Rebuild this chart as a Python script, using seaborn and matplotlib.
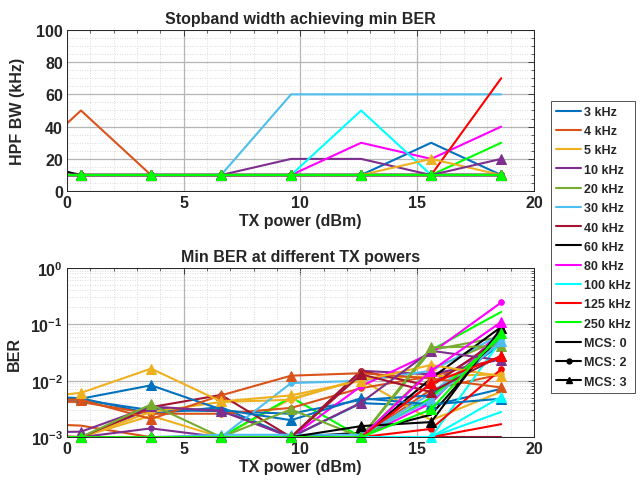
import matplotlib
matplotlib.use("Agg")
import matplotlib.pyplot as plt
import numpy as np
import pandas as pd
import seaborn as sns
from matplotlib.lines import Line2D
from matplotlib.ticker import MultipleLocator, FixedLocator, FixedFormatter, NullFormatter

# ---------------------------------------------------------------- data
tx_power = [-2.4, 0.6, 3.6, 6.6, 9.6, 12.6, 15.6, 18.6]

bandwidths = ["3 kHz", "4 kHz", "5 kHz", "10 kHz", "20 kHz", "30 kHz",
              "40 kHz", "60 kHz", "80 kHz", "100 kHz", "125 kHz", "250 kHz"]

bw_colors = ["#0072BD", "#D95319", "#EDB120", "#7E2F8E", "#77AC30", "#4DBEEE",
             "#A2142F", "#000000", "#FF00FF", "#00FFFF", "#FF0000", "#00FF00"]

mcs_levels = [0, 2, 3]

# HPF stopband width (kHz) giving the lowest BER, one row per bandwidth
hpf_mcs0 = [
    [10, 10, 10, 10, 10, 10, 30, 10],
    [10, 50, 10, 10, 10, 10, 10, 10],
    [10, 10, 10, 10, 10, 10, 10, 10],
    [10, 10, 10, 10, 20, 20, 10, 10],
    [10, 10, 10, 10, 10, 10, 10, 10],
    [10, 10, 10, 10, 60, 60, 60, 60],
    [10, 10, 10, 10, 10, 10, 10, 10],
    [20, 10, 10, 10, 10, 10, 10, 10],
    [10, 10, 10, 10, 10, 30, 20, 40],
    [10, 10, 10, 10, 10, 50, 10, 10],
    [10, 10, 10, 10, 10, 10, 10, 70],
    [10, 10, 10, 10, 10, 10, 10, 30],
]
hpf_mcs2 = [[10] * 8 for _ in range(12)]
hpf_mcs3 = [
    [10, 10, 10, 10, 10, 10, 10, 10],
    [10, 10, 10, 10, 10, 10, 10, 10],
    [10, 10, 10, 10, 10, 10, 20, 10],
    [10, 10, 10, 10, 10, 10, 10, 20],
    [10, 10, 10, 10, 10, 10, 10, 10],
    [10, 10, 10, 10, 10, 10, 10, 10],
    [10, 10, 10, 10, 10, 10, 10, 10],
    [10, 10, 10, 10, 10, 10, 10, 10],
    [10, 10, 10, 10, 10, 10, 10, 10],
    [10, 10, 10, 10, 10, 10, 10, 10],
    [10, 10, 10, 10, 10, 10, 10, 10],
    [10, 10, 10, 10, 10, 10, 10, 10],
]

# minimum BER per bandwidth and TX power
ber_mcs0 = [
    [5.6e-3, 4.9e-3, 2.6e-3, 3.4e-3, 1.0e-3, 4.0e-3, 3.6e-3, 7.2e-3],
    [1.8e-3, 1.6e-3, 1.0e-3, 1.0e-3, 1.0e-3, 1.0e-3, 7.0e-3, 1.3e-2],
    [1.0e-3, 1.0e-3, 2.4e-3, 1.0e-3, 4.8e-3, 1.05e-2, 2.0e-3, 6.4e-3],
    [1.0e-3, 1.0e-3, 3.2e-3, 3.0e-3, 1.0e-3, 1.0e-3, 9.0e-3, 5.0e-2],
    [1.0e-3, 1.0e-3, 1.0e-3, 1.0e-3, 1.0e-3, 1.0e-3, 1.6e-2, 5.5e-2],
    [1.0e-3, 1.0e-3, 1.0e-3, 1.0e-3, 1.0e-3, 1.0e-3, 6.0e-3, 5.5e-2],
    [1.0e-3, 1.0e-3, 1.0e-3, 1.0e-3, 1.0e-3, 1.0e-3, 1.0e-3, 1.0e-3],
    [1.0e-3, 1.0e-3, 1.0e-3, 1.0e-3, 1.0e-3, 1.2e-3, 2.5e-3, 6.5e-2],
    [1.0e-3, 1.0e-3, 1.0e-3, 1.0e-3, 1.0e-3, 1.0e-3, 4.0e-3, 8.0e-2],
    [1.0e-3, 1.0e-3, 1.0e-3, 1.0e-3, 1.0e-3, 1.0e-3, 1.0e-3, 2.8e-3],
    [1.0e-3, 1.0e-3, 1.0e-3, 1.0e-3, 1.0e-3, 1.0e-3, 1.0e-3, 1.7e-3],
    [1.0e-3, 1.0e-3, 1.0e-3, 1.0e-3, 5.1e-3, 1.0e-3, 3.5e-2, 1.66e-1],
]
ber_mcs2 = [
    [4.6e-3, 4.6e-3, 3.0e-3, 2.9e-3, 2.6e-3, 4.6e-3, 5.5e-3, 4.5e-2],
    [4.4e-3, 4.2e-3, 2.6e-3, 2.6e-3, 3.3e-3, 7.4e-3, 1.2e-2, 2.5e-2],
    [1.2e-3, 1.0e-3, 2.8e-3, 4.2e-3, 4.6e-3, 1.1e-2, 1.2e-2, 1.3e-2],
    [1.1e-3, 1.0e-3, 1.43e-3, 1.0e-3, 1.0e-3, 1.5e-2, 1.3e-2, 2.4e-2],
    [1.0e-3, 1.0e-3, 1.0e-3, 1.0e-3, 1.0e-3, 1.0e-3, 3.5e-2, 6.0e-2],
    [1.0e-3, 1.0e-3, 1.0e-3, 1.0e-3, 9.1e-3, 1.0e-2, 1.5e-2, 6.6e-2],
    [1.0e-3, 1.0e-3, 3.4e-3, 5.6e-3, 1.0e-3, 1.5e-2, 8.0e-3, 5.8e-2],
    [1.0e-3, 1.0e-3, 1.0e-3, 1.0e-3, 1.0e-3, 1.0e-3, 1.1e-2, 9.0e-2],
    [1.0e-3, 1.0e-3, 1.0e-3, 1.0e-3, 1.0e-3, 8.0e-3, 3.1e-2, 2.44e-1],
    [1.0e-3, 1.0e-3, 1.0e-3, 1.0e-3, 1.0e-3, 1.0e-3, 1.0e-3, 5.2e-2],
    [1.0e-3, 1.0e-3, 1.0e-3, 1.0e-3, 1.0e-3, 1.0e-3, 1.4e-3, 1.6e-2],
    [1.0e-3, 1.0e-3, 1.0e-3, 1.0e-3, 1.0e-3, 1.0e-3, 5.0e-3, 6.0e-2],
]
ber_mcs3 = [
    [5.4e-3, 4.8e-3, 8.3e-3, 3.1e-3, 2.0e-3, 4.9e-3, 3.8e-3, 4.8e-3],
    [4.9e-3, 4.6e-3, 2.1e-3, 5.5e-3, 1.23e-2, 1.36e-2, 1.1e-2, 7.6e-3],
    [4.6e-3, 6.1e-3, 1.64e-2, 4.3e-3, 5.5e-3, 1.0e-2, 1.9e-2, 1.2e-2],
    [1.2e-3, 1.25e-3, 3.5e-3, 2.9e-3, 1.0e-3, 4.1e-3, 3.4e-2, 2.3e-2],
    [1.0e-3, 1.0e-3, 3.8e-3, 1.0e-3, 3.1e-3, 1.0e-3, 3.9e-2, 4.1e-2],
    [1.0e-3, 1.0e-3, 1.0e-3, 1.1e-3, 1.1e-3, 1.1e-3, 4.5e-3, 5.0e-2],
    [1.0e-3, 1.0e-3, 1.0e-3, 1.0e-3, 1.0e-3, 1.3e-2, 6.3e-3, 2.8e-2],
    [1.0e-3, 1.0e-3, 1.0e-3, 1.0e-3, 1.0e-3, 1.57e-3, 1.85e-3, 8.5e-2],
    [1.0e-3, 1.0e-3, 1.0e-3, 1.0e-3, 1.0e-3, 1.0e-3, 1.5e-2, 1.1e-1],
    [1.0e-3, 1.0e-3, 1.0e-3, 1.0e-3, 1.0e-3, 1.0e-3, 1.0e-3, 5.2e-3],
    [1.0e-3, 1.0e-3, 1.0e-3, 1.0e-3, 1.0e-3, 1.0e-3, 9.0e-3, 2.7e-2],
    [1.0e-3, 1.0e-3, 1.0e-3, 1.0e-3, 1.0e-3, 1.0e-3, 3.1e-3, 7.0e-2],
]

# ---------------------------------------------------------------- style
sns.set_theme(style="white")
plt.rcParams["font.family"] = ["Liberation Sans", "DejaVu Sans"]
plt.rcParams["font.weight"] = "bold"
plt.rcParams["axes.labelweight"] = "bold"
plt.rcParams["axes.titleweight"] = "bold"
plt.rcParams["mathtext.fontset"] = "custom"
plt.rcParams["mathtext.bf"] = "Liberation Sans:bold"
plt.rcParams["mathtext.rm"] = "Liberation Sans:bold"

EDGE = "#262626"
FS = 11.5
markers = {0: None, 2: "o", 3: "^"}
msizes = {0: 0, 2: 4, 3: 6.5}


def draw_series(ax, xs, ys, color, mcs):
    df = pd.DataFrame({"x": xs, "y": ys})
    sns.lineplot(data=df, x="x", y="y", ax=ax, color=color, lw=1.5,
                 sort=False, estimator=None, legend=False)
    if markers[mcs] is not None:
        vis = df[df["x"] >= 0]
        sns.lineplot(data=vis, x="x", y="y", ax=ax, color=color,
                     linestyle="none", marker=markers[mcs], markersize=msizes[mcs],
                     markeredgecolor=color, markerfacecolor=color,
                     sort=False, estimator=None, legend=False, clip_on=False)


def style_axes(ax):
    ax.set_xlim(0, 20)
    ax.xaxis.set_major_locator(MultipleLocator(5))
    ax.xaxis.set_minor_locator(MultipleLocator(1))
    ax.grid(True, which="major", color="#b5b5b5", lw=0.9, ls="-")
    ax.grid(True, which="minor", color="#cfcfcf", lw=0.6, ls=(0, (1, 2)))
    ax.set_axisbelow(True)
    ax.tick_params(which="both", direction="in", top=True, right=True,
                   color=EDGE, labelsize=FS, pad=3)
    ax.tick_params(which="major", length=4, width=0.6)
    ax.tick_params(which="minor", length=2, width=0.5)
    for s in ax.spines.values():
        s.set_color(EDGE)
        s.set_linewidth(0.7)
    for lab in ax.get_xticklabels() + ax.get_yticklabels():
        lab.set_fontweight("bold")
    ax.set_xlabel("TX power (dBm)", fontsize=FS, labelpad=2)


fig = plt.figure(figsize=(6.44, 4.89), dpi=100)
ax1 = fig.add_axes([0.104, 0.607, 0.725, 0.330])
ax2 = fig.add_axes([0.104, 0.104, 0.725, 0.346])

# ---------------------------------------------------------------- top panel
for mcs, table in zip(mcs_levels, [hpf_mcs0, hpf_mcs2, hpf_mcs3]):
    for col, vals in zip(bw_colors, table):
        draw_series(ax1, tx_power, vals, col, mcs)
ax1.set_ylim(0, 100)
ax1.yaxis.set_major_locator(MultipleLocator(20))
ax1.yaxis.set_minor_locator(MultipleLocator(5))
style_axes(ax1)
ax1.set_ylabel("HPF BW (kHz)", fontsize=FS, labelpad=8)
ax1.set_title("Stopband width achieving min BER", fontsize=FS, pad=5)

# ---------------------------------------------------------------- bottom panel
for mcs, table in zip(mcs_levels, [ber_mcs0, ber_mcs2, ber_mcs3]):
    for col, vals in zip(bw_colors, table):
        draw_series(ax2, tx_power, vals, col, mcs)
ax2.set_yscale("log")
ax2.set_ylim(1e-3, 1)
ax2.yaxis.set_major_locator(FixedLocator([1e-3, 1e-2, 1e-1, 1]))
ax2.yaxis.set_major_formatter(FixedFormatter(
    [r"$\mathbf{10^{-3}}$", r"$\mathbf{10^{-2}}$", r"$\mathbf{10^{-1}}$", r"$\mathbf{10^{0}}$"]))
minor = [m * 10.0 ** e for e in (-3, -2, -1) for m in range(2, 10)]
ax2.yaxis.set_minor_locator(FixedLocator(minor))
ax2.yaxis.set_minor_formatter(NullFormatter())
style_axes(ax2)
ax2.set_ylabel("BER", fontsize=FS, labelpad=6)
ax2.set_title("Min BER at different TX powers", fontsize=FS, pad=5)

# ---------------------------------------------------------------- legend
handles = [Line2D([], [], color=c, lw=1.5) for c in bw_colors]
handles += [
    Line2D([], [], color="black", lw=1.5),
    Line2D([], [], color="black", lw=1.5, marker="o", markersize=3.5),
    Line2D([], [], color="black", lw=1.5, marker="^", markersize=5),
]
labels = bandwidths + ["MCS: 0", "MCS: 2", "MCS: 3"]
leg = fig.legend(handles, labels, loc="upper left",
                 bbox_to_anchor=(551 / 644, 1 - 102 / 489),
                 fontsize=9, frameon=True, fancybox=False, edgecolor=EDGE,
                 handlelength=2.0, handletextpad=0.2, labelspacing=0.58,
                 borderpad=0.4, borderaxespad=0)
leg.get_frame().set_linewidth(0.7)
for t in leg.get_texts():
    t.set_fontweight("bold")

fig.savefig("out.png", dpi=100, facecolor="white")
